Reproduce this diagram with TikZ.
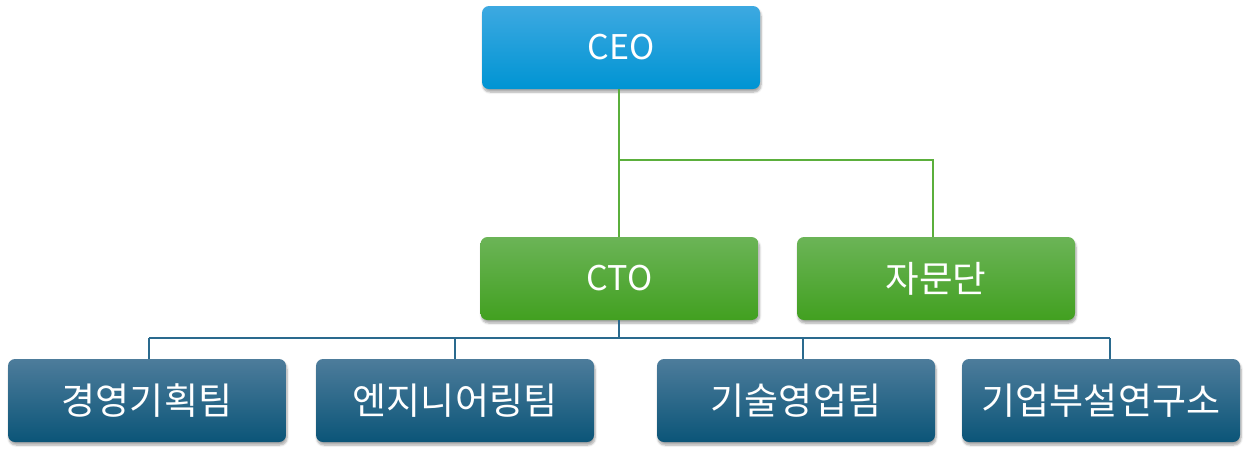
\documentclass[tikz,border=0pt]{standalone}
\usepackage{fontspec}
\setmainfont{Noto Sans CJK KR}
\usetikzlibrary{shadows,shadows.blur}
\definecolor{ceoT}{HTML}{3DA9E1}
\definecolor{ceoB}{HTML}{0094D3}
\definecolor{grT}{HTML}{6BB457}
\definecolor{grB}{HTML}{42A020}
\definecolor{blT}{HTML}{4D7C9B}
\definecolor{blB}{HTML}{0B5578}
\definecolor{grLine}{HTML}{5BAF3C}
\definecolor{blLine}{HTML}{2A6A8E}
\tikzset{
  box/.style={rounded corners=7pt, minimum width=278pt, minimum height=83pt,
    text=white, inner sep=0pt, blur shadow={shadow xshift=1pt, shadow yshift=-3pt, shadow blur steps=6, shadow opacity=35}},
  ceobox/.style={box, top color=ceoT, bottom color=ceoB, font=\fontsize{34}{40}\selectfont},
  grbox/.style={box, top color=grT, bottom color=grB, font=\fontsize{34}{40}\selectfont},
  kgrbox/.style={box, top color=grT, bottom color=grB, font=\fontsize{36.5}{42}\selectfont},
  blbox/.style={box, top color=blT, bottom color=blB, font=\fontsize{37}{42}\selectfont},
  gline/.style={draw=grLine, line width=1.6pt},
  bline/.style={draw=blLine, line width=1.6pt}
}
\begin{document}
\begin{tikzpicture}[x=1pt,y=-1pt]
\useasboundingbox (0,0) rectangle (1247,451);
\node[ceobox] (ceo) at (621,47.5) {CEO};
\node[grbox] (cto) at (619.5,278.5) {CTO};
\node[kgrbox] (adv) at (936,278.5) {자문단};
\node[blbox] (t1) at (147,400.5) {경영기획팀};
\node[blbox] (t2) at (455,400.5) {엔지니어링팀};
\node[blbox] (t3) at (796,400.5) {기술영업팀};
\node[blbox] (t4) at (1101,400.5) {기업부설연구소};
\coordinate (gj) at (619,160);
\coordinate (bj) at (619,338);
\draw[gline] (ceo.south -| gj) -- (cto.north -| gj);
\draw[gline] (gj) -- (933,160) -- (adv.north -| 933,0);
\draw[bline] (cto.south -| bj) -- (bj);
\draw[bline] (149,338) -- (1110,338);
\draw[bline] (149,338) -- (t1.north -| 149,0);
\draw[bline] (455,338) -- (t2.north -| 455,0);
\draw[bline] (803,338) -- (t3.north -| 803,0);
\draw[bline] (1110,338) -- (t4.north -| 1110,0);
\end{tikzpicture}
\end{document}
